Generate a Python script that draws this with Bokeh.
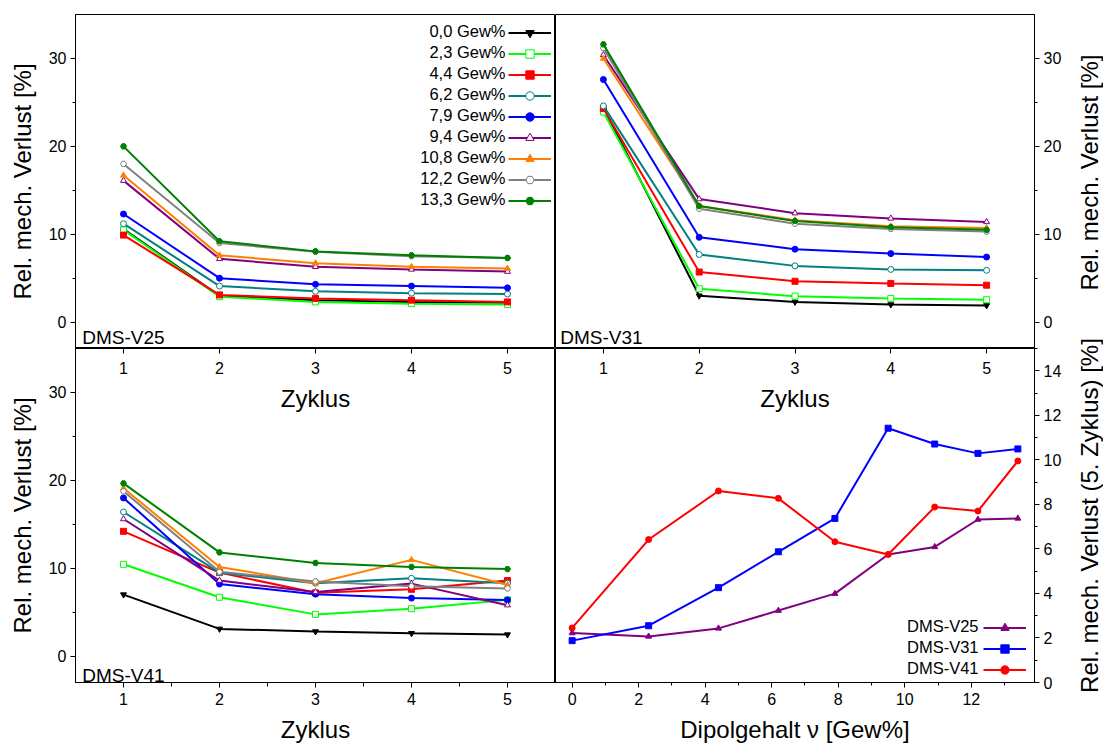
import math
from bokeh.plotting import figure
from bokeh.models import Range1d, LinearAxis, FixedTicker, Legend, LegendItem, Label
from bokeh.layouts import row, column
from bokeh.embed import file_html
from bokeh.resources import INLINE

# ---------------- data ----------------
cycles = [1, 2, 3, 4, 5]
contents = ["0,0", "2,3", "4,4", "6,2", "7,9", "9,4", "10,8", "12,2", "13,3"]
dipole = [0, 2.3, 4.4, 6.2, 7.9, 9.5, 10.9, 12.2, 13.4]

# DMS-V25
v25_00 = [10.6, 3.0, 2.5, 2.3, 2.2]
v25_23 = [10.5, 2.9, 2.3, 2.1, 2.0]
v25_44 = [9.9, 3.1, 2.7, 2.5, 2.3]
v25_62 = [11.2, 4.1, 3.5, 3.3, 3.2]
v25_79 = [12.3, 5.0, 4.3, 4.1, 3.9]
v25_94 = [16.1, 7.2, 6.3, 6.0, 5.75]
v25_108 = [16.7, 7.6, 6.7, 6.3, 6.1]
v25_122 = [18.0, 9.0, 8.0, 7.5, 7.3]
v25_133 = [20.0, 9.2, 8.05, 7.6, 7.3]

# DMS-V31
v31_00 = [24.4, 3.0, 2.3, 2.0, 1.9]
v31_23 = [23.9, 3.8, 2.95, 2.7, 2.55]
v31_44 = [24.3, 5.7, 4.65, 4.4, 4.2]
v31_62 = [24.6, 7.7, 6.4, 6.0, 5.9]
v31_79 = [27.6, 9.65, 8.3, 7.8, 7.4]
v31_94 = [30.4, 14.0, 12.4, 11.8, 11.4]
v31_108 = [30.0, 13.2, 11.6, 10.9, 10.7]
v31_122 = [31.2, 12.9, 11.2, 10.6, 10.3]
v31_133 = [31.6, 13.2, 11.5, 10.8, 10.5]

# DMS-V41
v41_00 = [7.0, 3.1, 2.8, 2.6, 2.45]
v41_23 = [10.45, 6.7, 4.75, 5.4, 6.4]
v41_44 = [14.2, 9.5, 7.2, 7.6, 8.6]
v41_62 = [16.4, 9.5, 8.3, 8.85, 8.3]
v41_79 = [18.0, 8.2, 7.05, 6.6, 6.4]
v41_94 = [15.6, 8.6, 7.3, 8.25, 5.8]
v41_108 = [19.1, 10.15, 8.3, 10.95, 8.1]
v41_122 = [18.75, 9.6, 8.5, 7.95, 7.7]
v41_133 = [19.65, 11.8, 10.6, 10.15, 9.9]

# 5th cycle vs dipole content
c5_v25 = [2.22, 2.07, 2.43, 3.23, 3.99, 5.75, 6.09, 7.32, 7.37]
c5_v31 = [1.88, 2.55, 4.26, 5.87, 7.37, 11.42, 10.71, 10.29, 10.49]
c5_v41 = [2.45, 6.42, 8.6, 8.27, 6.32, 5.75, 7.88, 7.7, 9.95]

v25 = [v25_00, v25_23, v25_44, v25_62, v25_79, v25_94, v25_108, v25_122, v25_133]
v31 = [v31_00, v31_23, v31_44, v31_62, v31_79, v31_94, v31_108, v31_122, v31_133]
v41 = [v41_00, v41_23, v41_44, v41_62, v41_79, v41_94, v41_108, v41_122, v41_133]

# ---------------- styles ----------------
FONT = "Liberation Sans"
TICK_FS = "16px"
LAB_FS = "24px"
LEG_FS = "16.5px"
colors = ["#000000", "#00ff00", "#ff0000", "#008080", "#0000ff",
          "#800080", "#ff8000", "#808080", "#008000"]
markers = ["inverted_triangle", "square", "square", "circle", "circle",
           "triangle", "triangle", "hex", "hex"]
filled = [True, False, True, False, True, False, True, False, True]

GLYPH_H = 21          # legend row height (px)
PAD = 2
CYC_PXU = 334 / 38.0  # px per unit on the cycle panels' y axis
BR_PXU = 334 / 15.0   # px per unit on the dipole panel's y axis


def make_fig(w, h, xr, yr, bl, br, bt, bb):
    p = figure(width=w, height=h, x_range=xr, y_range=yr,
               output_backend="svg", toolbar_location=None,
               x_axis_location=None, y_axis_location=None,
               min_border_left=bl, min_border_right=br,
               min_border_top=bt, min_border_bottom=bb)
    p.grid.visible = False
    p.outline_line_color = "black"
    p.outline_line_width = 1
    p.outline_line_alpha = 1
    p.background_fill_color = "white"
    p.border_fill_color = "white"
    return p


def style_axis(ax, label_standoff=4, axis_label_standoff=10):
    ax.major_label_text_font = FONT
    ax.major_label_text_font_size = TICK_FS
    ax.major_label_text_color = "black"
    ax.axis_label_text_font = FONT
    ax.axis_label_text_font_size = LAB_FS
    ax.axis_label_text_font_style = "normal"
    ax.axis_label_text_color = "black"
    ax.major_tick_in = 0
    ax.major_tick_out = 5
    ax.minor_tick_in = 0
    ax.minor_tick_out = 3
    ax.axis_line_color = "black"
    ax.major_tick_line_color = "black"
    ax.minor_tick_line_color = "black"
    ax.major_label_standoff = label_standoff
    ax.axis_label_standoff = axis_label_standoff


def y_cycle_axis(p, side, label):
    ax = LinearAxis(ticker=FixedTicker(ticks=[0, 10, 20, 30], minor_ticks=[5, 15, 25]))
    if label:
        ax.axis_label = label
    style_axis(ax, 4, 10)
    p.add_layout(ax, side)


def glyph_legend(p, items, loc):
    # legend showing only the sample glyphs; the texts are drawn to their left
    p.add_layout(Legend(items=items, location=loc,
                        label_text_font=FONT, label_text_font_size="1px",
                        glyph_width=43, glyph_height=GLYPH_H, label_height=GLYPH_H,
                        label_width=0, spacing=0, padding=PAD, margin=0,
                        label_standoff=0, border_line_color=None,
                        background_fill_alpha=0))


def first_row_center(bottom, n):
    box_h = n * GLYPH_H + 2 * PAD
    return bottom + box_h - PAD - GLYPH_H / 2.0


def legend_texts(p, texts, x_right, y_first, step, range_name="default"):
    for i, t in enumerate(texts):
        p.add_layout(Label(x=x_right, y=y_first - i * step, x_range_name=range_name,
                           text=t, text_font=FONT, text_font_size=LEG_FS,
                           text_align="right", text_baseline="middle", text_color="black"))


def cycle_panel(p, data, with_legend):
    items = []
    for i, ys in enumerate(data):
        lr = p.line(cycles, ys, line_color=colors[i], line_width=2)
        sr = p.scatter(cycles, ys, marker=markers[i], size=6,
                       line_color=colors[i], line_width=1,
                       fill_color=colors[i] if filled[i] else "white")
        items.append(LegendItem(label=" ", renderers=[lr, sr]))
    if with_legend:
        bottom = 137
        glyph_legend(p, items, (433, bottom))
        first = first_row_center(bottom, len(items))
        legend_texts(p, [c + " Gew%" for c in contents], 0.5 + (505 - 75) / 96.0,
                     -3 + first / CYC_PXU, GLYPH_H / CYC_PXU)


def top_cycle_axis(p, range_name):
    kw = {"x_range_name": range_name} if range_name else {}
    ax = LinearAxis(ticker=FixedTicker(ticks=cycles, minor_ticks=[]), **kw)
    style_axis(ax, -25, 5)
    ax.major_tick_in = 5
    ax.major_tick_out = 0
    ax.minor_tick_out = 0
    ax.axis_line_color = None
    p.add_layout(ax, "above")


def panel_label(p, text, x, y):
    p.add_layout(Label(x=x, y=y, text=text, text_font=FONT, text_font_size="19px",
                       text_align="left", text_baseline="alphabetic", text_color="black"))


# ---------------- top-left: DMS-V25 ----------------
tl = make_fig(555, 348, Range1d(0.5, 5.5), Range1d(-3, 35), 75, 0, 14, 0)
y_cycle_axis(tl, "left", "Rel. mech. Verlust [%]")
cycle_panel(tl, v25, True)
panel_label(tl, "DMS-V25", 0.57, -1.75)

# ---------------- top-right: DMS-V31 ----------------
tr = make_fig(511, 348, Range1d(0.5, 5.5), Range1d(-3, 35), 0, 32, 14, 0)
y_cycle_axis(tr, "right", None)
cycle_panel(tr, v31, False)
panel_label(tr, "DMS-V31", 0.55, -1.75)

# ---------------- bottom-left: DMS-V41 ----------------
bl = make_fig(555, 397, Range1d(0.5, 5.5), Range1d(-3, 35), 75, 0, 0, 63)
y_cycle_axis(bl, "left", "Rel. mech. Verlust [%]")
bx = LinearAxis(ticker=FixedTicker(ticks=cycles, minor_ticks=[1.5, 2.5, 3.5, 4.5]),
                axis_label="Zyklus")
style_axis(bx, 5, 8)
bx.minor_tick_out = 4
bl.add_layout(bx, "below")
top_cycle_axis(bl, None)
bl.add_layout(Label(x=3, y=29.3, text="Zyklus", text_font=FONT, text_font_size=LAB_FS,
                    text_align="center", text_baseline="middle", text_color="black"))
cycle_panel(bl, v41, False)
panel_label(bl, "DMS-V41", 0.57, -2.2)

# ---------------- bottom-right: 5th cycle vs dipole ----------------
br = make_fig(511, 397, Range1d(-0.5, 13.9), Range1d(0, 15), 0, 32, 0, 63)
br.extra_x_ranges = {"zyk": Range1d(0.5, 5.5)}
rx = LinearAxis(ticker=FixedTicker(ticks=[0, 2, 4, 6, 8, 10, 12], minor_ticks=[1, 3, 5, 7, 9, 11, 13]),
                axis_label="Dipolgehalt \u03bd [Gew%]")
style_axis(rx, 5, 8)
br.add_layout(rx, "below")
ry = LinearAxis(ticker=FixedTicker(ticks=[0, 2, 4, 6, 8, 10, 12, 14],
                                   minor_ticks=[1, 3, 5, 7, 9, 11, 13, 15]))
style_axis(ry, 4, 10)
br.add_layout(ry, "right")
top_cycle_axis(br, "zyk")
br.add_layout(Label(x=3, y=12.75, x_range_name="zyk", text="Zyklus", text_font=FONT,
                    text_font_size=LAB_FS, text_align="center", text_baseline="middle",
                    text_color="black"))

series_names = ["DMS-V25", "DMS-V31", "DMS-V41"]
br_items = []
for ys, col, mk in [(c5_v25, "#800080", "triangle"),
                    (c5_v31, "#0000ff", "square"),
                    (c5_v41, "#ff0000", "circle")]:
    lr = br.line(dipole, ys, line_color=col, line_width=2)
    sr = br.scatter(dipole, ys, marker=mk, size=6, line_color=col, fill_color=col)
    br_items.append(LegendItem(label=" ", renderers=[lr, sr]))
br_bottom = 2
glyph_legend(br, br_items, (428, br_bottom))
legend_texts(br, series_names, 0.5 + (978 - 555) / 95.8,
             first_row_center(br_bottom, len(br_items)) / BR_PXU,
             GLYPH_H / BR_PXU, "zyk")

# ---------------- right-hand axis titles ----------------
lab = figure(width=37, height=745, x_range=Range1d(0, 37), y_range=Range1d(0, 745),
             output_backend="svg", toolbar_location=None,
             x_axis_location=None, y_axis_location=None,
             min_border_left=0, min_border_right=0, min_border_top=0, min_border_bottom=0)
lab.grid.visible = False
lab.outline_line_color = None
lab.background_fill_color = "white"
lab.border_fill_color = "white"
for txt, yc in [("Rel. mech. Verlust [%]", 573), ("Rel. mech. Verlust (5. Zyklus) [%]", 230)]:
    lab.add_layout(Label(x=23, y=yc, text=txt, angle=math.pi / 2, text_font=FONT,
                         text_font_size=LAB_FS, text_align="center", text_baseline="middle",
                         text_color="black"))

layout = row(column(row(tl, tr), row(bl, br)), lab)

with open("out.html", "w") as f:
    f.write(file_html(layout, INLINE))
